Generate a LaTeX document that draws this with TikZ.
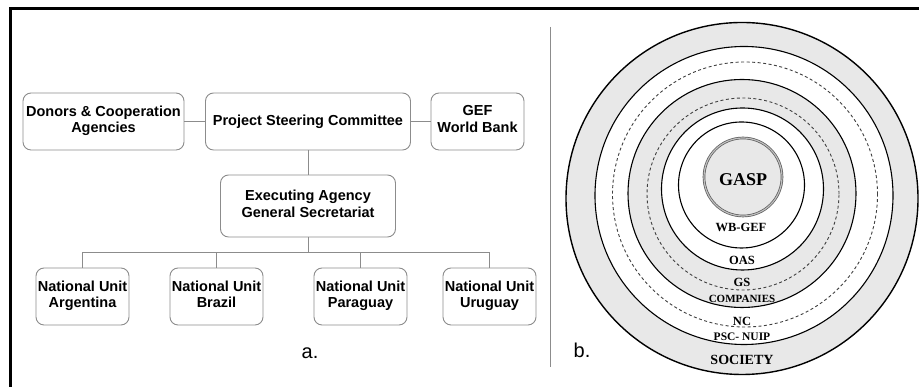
\documentclass[tikz,border=0pt]{standalone}
\usepackage{fontspec}
\setmainfont{Liberation Sans}
\newfontfamily\ringfont{Liberation Serif}
\usetikzlibrary{positioning}
\definecolor{boxgray}{HTML}{8C8C8C}
\definecolor{ringfill}{HTML}{E8E8E8}

\begin{document}
\begin{tikzpicture}[x=1pt,y=1pt,
    orgbox/.style={draw=boxgray,line width=0.9pt,rounded corners=8pt,fill=white,align=center,
      font=\bfseries\fontsize{14.5}{16.5}\selectfont,minimum height=57pt,inner sep=1.5pt},
    link/.style={draw=boxgray,line width=0.9pt},
    ring/.style={draw=black,line width=1.1pt},
    dashring/.style={draw=black!75,line width=0.9pt,dash pattern=on 3pt off 2.5pt},
    ringlabel/.style={font=\ringfont\bfseries\fontsize{#1}{#1}\selectfont,inner sep=0pt}]
  \useasboundingbox (0,0) rectangle (919,387);
  % frame and divider
  \draw[line width=2.7pt] (10.3,-5) |- (930,378.3);
  \draw[draw=black!45,line width=1pt] (550,360) -- (550,20);

  % a. organisation chart
  \node[orgbox,minimum width=205pt] (psc) at (308,265.5) {Project Steering Committee};
  \node[orgbox,minimum width=161pt] (donors) at (103.5,265.5) {Donors \& Cooperation\\Agencies\strut};
  \node[orgbox,minimum width=93pt] (gef) at (477.5,265.5) {GEF\\World Bank\strut};
  \node[orgbox,minimum width=175pt,minimum height=62pt] (exec) at (308,181) {Executing Agency\\General Secretariat\strut};
  \foreach \n/\x/\c in {arg/82.5/Argentina,bra/216.5/Brazil,par/360.5/Paraguay,uru/489.5/Uruguay}
    \node[orgbox,minimum width=93pt] (\n) at (\x,90.5) {National Unit\\\c\strut};
  \coordinate (bus) at (308,135);
  \draw[link] (donors) -- (psc);
  \draw[link] (psc) -- (gef);
  \draw[link] (psc) -- (exec);
  \draw[link] (exec) -- (bus);
  \foreach \n in {arg,bra,par,uru}
    \draw[link] (\n.north) |- (bus);
  \node[font=\fontsize{20}{20}\selectfont] (capa) at (310,34) {a.};

  % b. nested circles
  \draw[ring,line width=1.4pt,fill=ringfill] (742,188.5) circle[radius=176];
  \draw[ring,fill=white] (744,191.5) circle[radius=149];
  \draw[dashring] (745,192.5) circle[radius=132.5];
  \draw[ring,fill=ringfill] (742,193.5) circle[radius=114];
  \draw[dashring] (743,193) circle[radius=96];
  \draw[ring,fill=white] (742.5,198) circle[radius=81];
  \draw[ring] (741.5,202) circle[radius=63];
  \draw[draw=black!65,double=black!25,double distance=1.2pt,line width=0.7pt,fill=ringfill]
    (743,210) circle[radius=39];
  \node[ringlabel=18] (gasp) at (743,207) {GASP};
  \node[ringlabel=12.5] (wbgef) at (741,160) {WB-GEF};
  \node[ringlabel=12.5] (oas) at (742,127) {OAS};
  \node[ringlabel=12.5] (gs) at (742,105) {GS};
  \node[ringlabel=11] (comp) at (742,88) {COMPANIES};
  \node[ringlabel=12.5] (nc) at (742,66) {NC};
  \node[ringlabel=11.5] (pscnuip) at (742,50) {PSC- NUIP};
  \node[ringlabel=14] (soc) at (742,27) {SOCIETY};
  \node[font=\fontsize{20}{20}\selectfont] (capb) at (582,37) {b.};
\end{tikzpicture}
\end{document}
